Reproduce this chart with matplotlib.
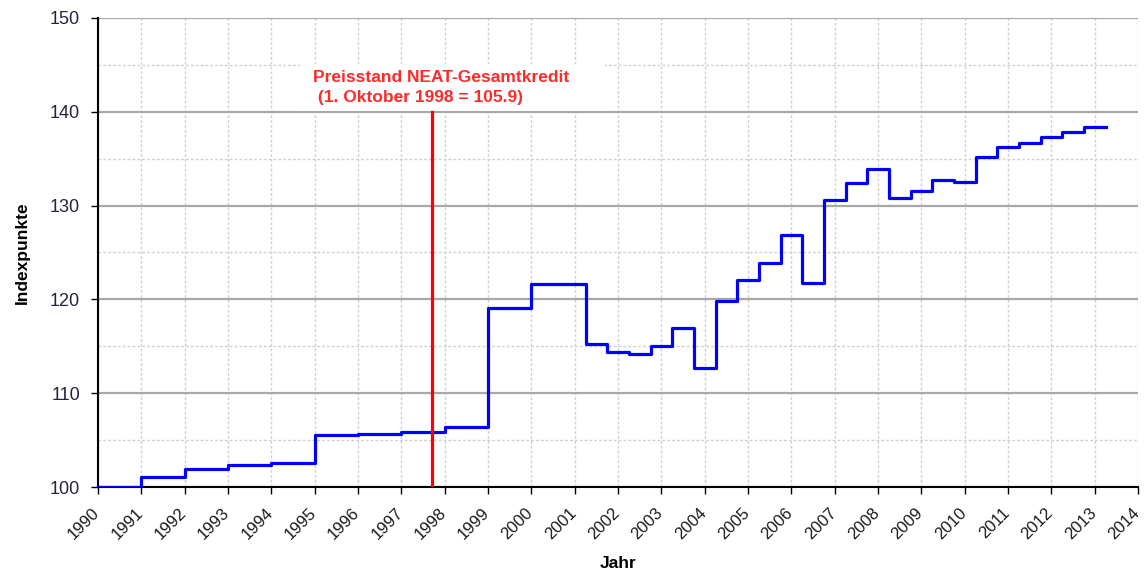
import matplotlib
matplotlib.use("Agg")
import matplotlib.pyplot as plt
import matplotlib.transforms as mtransforms
from matplotlib.patches import Rectangle
from matplotlib.ticker import MultipleLocator

plt.rcParams['font.family'] = ['Liberation Sans', 'DejaVu Sans']

# Step start dates (decimal years) and index values
dates = [1990, 1991, 1992, 1993, 1994, 1995, 1996, 1997, 1998, 1999, 2000,
         2001.25, 2001.75, 2002.25, 2002.75, 2003.25, 2003.75, 2004.25, 2004.75,
         2005.25, 2005.75, 2006.25, 2006.75, 2007.25, 2007.75, 2008.25, 2008.75,
         2009.25, 2009.75, 2010.25, 2010.75, 2011.25, 2011.75, 2012.25, 2012.75,
         2013.25]
values = [100.0, 101.1, 101.9, 102.3, 102.6, 105.5, 105.7, 105.9, 106.4, 119.1, 121.6,
          115.2, 114.4, 114.2, 115.0, 117.0, 112.7, 119.8, 122.1,
          123.9, 126.9, 121.7, 130.6, 132.4, 133.9, 130.8, 131.6,
          132.7, 132.5, 135.2, 136.2, 136.7, 137.3, 137.8, 138.4,
          138.4]
x_years = list(range(1990, 2015))
y_ticks = [100, 110, 120, 130, 140, 150]
marker_x = 1997.7
marker_top = 140
annot_text = "Preisstand NEAT-Gesamtkredit\n (1. Oktober 1998 = 105.9)"

fig = plt.figure(figsize=(11.45, 5.71), dpi=100)
ax = fig.add_axes([0.0856, 0.1471, 0.9083, 0.8214])

ax.set_xlim(1990, 2014)
ax.set_ylim(100, 150)
ax.set_xticks(x_years)
ax.set_xticklabels([str(y) for y in x_years], rotation=45, ha='right',
                   rotation_mode='anchor', fontsize=12, color='#1a1a1a')
ax.set_yticks(y_ticks)
ax.set_yticklabels([str(v) for v in y_ticks], fontsize=13, color='#2a2040')
ax.yaxis.set_minor_locator(MultipleLocator(5))
ax.tick_params(axis='y', which='minor', length=0)
ax.tick_params(axis='both', which='major', direction='out', length=5, width=1, color='black')
ax.tick_params(axis='y', which='major', pad=8)
ax.tick_params(axis='x', which='major', pad=8)

shift = mtransforms.ScaledTranslation(-6 / 100, 0, fig.dpi_scale_trans)
for lbl in ax.get_xticklabels():
    lbl.set_transform(lbl.get_transform() + shift)

ax.grid(True, axis='y', which='major', color='#a8a8a8', linewidth=1.6, linestyle='-', zorder=0)
ax.grid(True, axis='y', which='minor', color='#d0d0d0', linewidth=1.0, linestyle=(0, (2, 1.5)), zorder=0)
ax.grid(True, axis='x', which='major', color='#d0d0d0', linewidth=1.0, linestyle=(0, (2, 1.5)), zorder=0)
ax.set_axisbelow(True)

for s in ['top', 'right']:
    ax.spines[s].set_visible(False)
ax.spines['left'].set_linewidth(1.5)
ax.spines['bottom'].set_linewidth(1.5)

ax.step(dates, values, where='post', color='#0000ff', linewidth=2.3, zorder=3)

ax.plot([marker_x, marker_x], [100, marker_top], color='#ff0000', linewidth=2.3, zorder=4)

ax.add_patch(Rectangle((1994.65, 140.1), 7.05, 5.0, facecolor='white', edgecolor='none', zorder=2))
ax.text(1994.95, 142.6, annot_text, color='#ff2a2a', fontsize=12.5, fontweight='bold',
        ha='left', va='center', linespacing=1.45, zorder=5)

ax.set_ylabel('Indexpunkte', fontsize=12.5, fontweight='bold', labelpad=14)
ax.set_xlabel('Jahr', fontsize=12.5, fontweight='bold', labelpad=10)

fig.savefig('out.png', dpi=100)
